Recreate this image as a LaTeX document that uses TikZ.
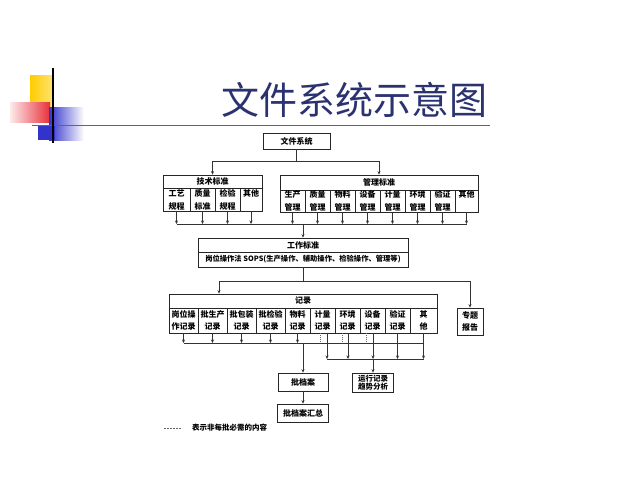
\documentclass[tikz,border=0pt]{standalone}
\usepackage{fontspec}
\newfontfamily\cjk{Noto Sans CJK SC}
\usetikzlibrary{arrows.meta}
\definecolor{titleblue}{HTML}{2B3270}
\definecolor{decoyellow}{HTML}{FFCC00}
\definecolor{decored}{HTML}{E8303A}
\definecolor{decoblue}{HTML}{3333CC}
\begin{document}
\begin{tikzpicture}[x=1pt,y=-1pt,
  box/.style={draw=black!85, line width=0.7pt, inner sep=0pt, align=center,
    font=\cjk\bfseries\fontsize{8}{13}\selectfont},
  tbox/.style={box, font=\cjk\bfseries\fontsize{8}{12}\selectfont},
  conn/.style={draw=black!80, line width=0.6pt},
  arr/.style={conn, -{Stealth[length=3.5pt,width=3pt]}},
  dotln/.style={draw=black!60, line width=0.5pt, dash pattern=on 1pt off 1pt}
]
\useasboundingbox[fill=white] (0,0) rectangle (640,480);

% decoration
\fill[decoyellow, left color=decoyellow, right color=decoyellow!55] (30,75) rectangle (53,106);
\fill[left color=decored!10, right color=decored] (10,102) rectangle (50,122);
\fill[left color=decoblue, middle color=decoblue, right color=white] (49,107) rectangle (84,140);
\fill[decoblue] (38,126) rectangle (55,140);
\draw[black!60, line width=1pt] (32,125) -- (490,125);
\draw[black, line width=1.2pt] (53,68) -- (53,143);

% title
\node[font=\cjk\fontsize{38}{40}\selectfont, text=titleblue] (title) at (354,100) {文件系统示意图};

% top
\node[box, minimum width=67pt, minimum height=16pt] (wj) at (296.5,141) {文件系统};

% 技术标准
\node[box, minimum width=99pt, minimum height=13pt] (jsh) at (212.5,181.5) {技术标准};
\node[box, minimum width=27pt, minimum height=23pt] (gy) at (176.5,199.5) {工艺\\规程};
\node[box, minimum width=25pt, minimum height=23pt] (zl) at (202.5,199.5) {质量\\标准};
\node[box, minimum width=25pt, minimum height=23pt] (jy) at (227.5,199.5) {检验\\规程};
\node[box, minimum width=22pt, minimum height=23pt] (qt1) at (251,199.5) {其他\\\mbox{}};

% 管理标准
\node[box, minimum width=198pt, minimum height=15pt] (glh) at (379,182.5) {管理标准};
\node[box, minimum width=25pt, minimum height=22pt] (sc) at (292.5,201) {生产\\管理};
\node[box, minimum width=25pt, minimum height=22pt] (zlg) at (317.5,201) {质量\\管理};
\node[box, minimum width=25pt, minimum height=22pt] (wl) at (342.5,201) {物料\\管理};
\node[box, minimum width=25pt, minimum height=22pt] (sb) at (367.5,201) {设备\\管理};
\node[box, minimum width=25pt, minimum height=22pt] (jl) at (392.5,201) {计量\\管理};
\node[box, minimum width=25pt, minimum height=22pt] (hj) at (417.5,201) {环境\\管理};
\node[box, minimum width=25pt, minimum height=22pt] (yz) at (442.5,201) {验证\\管理};
\node[box, minimum width=23pt, minimum height=22pt] (qt2) at (466.5,201) {其他\\\mbox{}};

% 工作标准
\node[box, minimum width=210pt, minimum height=14pt] (gzh) at (303,245) {工作标准};
\node[box, minimum width=210pt, minimum height=15pt, font=\cjk\bfseries\fontsize{7.3}{9}\selectfont] (gzr) at (303,259.5) {岗位操作法 SOPS(生产操作、辅助操作、检验操作、管理等)};

% 记录
\node[box, minimum width=268pt, minimum height=14pt] (jlh) at (303,301) {记录};
\node[tbox, minimum width=29pt, minimum height=25pt] (r1) at (183.5,320.5) {岗位操\\作记录};
\node[tbox, minimum width=29pt, minimum height=25pt] (r2) at (212.5,320.5) {批生产\\记录};
\node[tbox, minimum width=29pt, minimum height=25pt] (r3) at (241.5,320.5) {批包装\\记录};
\node[tbox, minimum width=29pt, minimum height=25pt] (r4) at (270.5,320.5) {批检验\\记录};
\node[tbox, minimum width=25pt, minimum height=25pt] (r5) at (297.5,320.5) {物料\\记录};
\node[tbox, minimum width=25pt, minimum height=25pt] (r6) at (322.5,320.5) {计量\\记录};
\node[tbox, minimum width=25pt, minimum height=25pt] (r7) at (347.5,320.5) {环境\\记录};
\node[tbox, minimum width=25pt, minimum height=25pt] (r8) at (372.5,320.5) {设备\\记录};
\node[tbox, minimum width=25pt, minimum height=25pt] (r9) at (397.5,320.5) {验证\\记录};
\node[tbox, minimum width=27pt, minimum height=25pt] (r10) at (423.5,320.5) {其\\他};
\node[tbox, minimum width=26pt, minimum height=27pt] (ztbg) at (470,321.5) {专题\\报告};

% bottom boxes
\node[box, minimum width=50pt, minimum height=18pt] (pda) at (303,382) {批档案};
\node[box, minimum width=51pt, minimum height=18pt] (pdahz) at (303,413) {批档案汇总};
\node[box, minimum width=41pt, minimum height=19pt, font=\cjk\bfseries\fontsize{7.5}{8.5}\selectfont] (yxjl) at (373,382.5) {运行记录\\趋势分析};

% connectors top
\coordinate (t1) at (296.5,161);
\draw[conn] (wj.south) -- (t1);
\draw[arr] (t1) -| (jsh.north);
\draw[arr] (t1) -| (glh.north);

% bus 1
\coordinate (b1L) at (176.5,224);
\coordinate (b1R) at (466.5,224);
\coordinate (b1M) at (303,224);
\draw[conn] (b1L) -- (b1R);
\foreach \c in {gy,zl,jy,qt1,sc,zlg,wl,sb,jl,hj,yz,qt2}
  \draw[arr] (\c.south) -- (\c.south |- b1L);
\draw[arr] (b1M) -- (gzh.north);

% bus 2
\coordinate (b2M) at (303,281);
\coordinate (b2L) at (219,281);
\coordinate (b2R) at (470,281);
\draw[conn] (gzr.south) -- (b2M);
\draw[conn] (b2L) -- (b2R);
\draw[arr] (b2L) -- (b2L |- jlh.north);
\draw[arr] (b2R) -- (ztbg.north);

% bus 3 (upper)
\coordinate (b3L) at (183.5,343);
\coordinate (b3R) at (423.5,343);
\coordinate (b3M) at (303,343);
\draw[conn] (b3L) -- (b3R);
\foreach \c in {r1,r2,r3,r4,r5}
  \draw[arr] (\c.south) -- (\c.south |- b3L);
\draw[dotln] ([xshift=-2.5pt]r6.south) -- ([xshift=-2.5pt]r6.south |- b3L);
\draw[dotln] ([xshift=-5.5pt]r7.south) -- ([xshift=-5.5pt]r7.south |- b3L);
\draw[dotln] ([xshift=-6.5pt]r8.south) -- ([xshift=-6.5pt]r8.south |- b3L);
\draw[arr] (b3M) -- (pda.north);
\draw[arr] (pda.south) -- (pdahz.north);

% bus 4 (lower)
\coordinate (b4L) at (327,359);
\coordinate (b4R) at (423.5,359);
\coordinate (b4M) at (373,359);
\draw[conn] (b4L) -- (b4R);
\draw[arr] ([xshift=4.5pt]r6.south) -- ([xshift=4.5pt]r6.south |- b4L);
\draw[arr] ([xshift=0.5pt]r7.south) -- ([xshift=0.5pt]r7.south |- b4L);
\draw[arr] ([xshift=0.5pt]r8.south) -- ([xshift=0.5pt]r8.south |- b4L);
\draw[arr] (r9.south) -- (r9.south |- b4L);
\draw[arr] (r10.south) -- (r10.south |- b4L);
\draw[arr] (b4M) -- (yxjl.north);

% legend
\coordinate (lg1) at (164,428);
\coordinate (lg2) at (181,428);
\draw[black!60, line width=0.6pt, dash pattern=on 2pt off 1pt] (lg1) -- (lg2);
\node[anchor=west, inner sep=0pt, font=\cjk\bfseries\fontsize{7.5}{9}\selectfont] (lgt) at (192,428) {表示非每批必需的内容};
\end{tikzpicture}
\end{document}
